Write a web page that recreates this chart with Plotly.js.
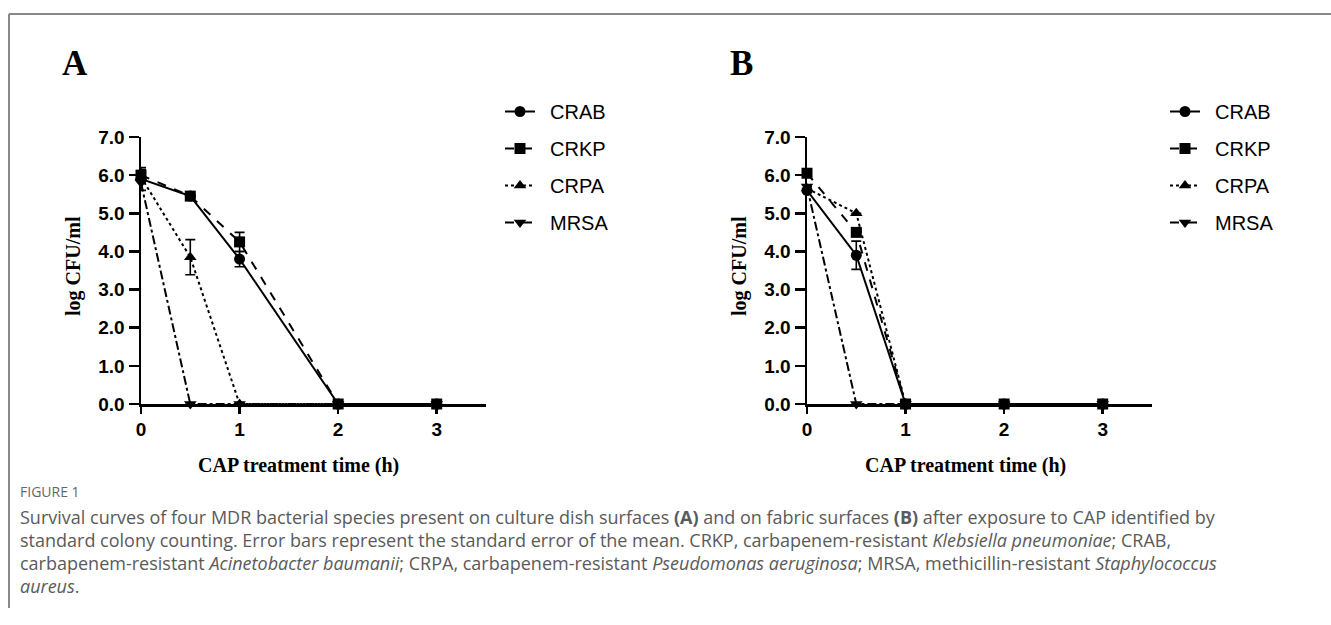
<!DOCTYPE html>
<html><head><meta charset="utf-8">
<script src="https://cdn.plot.ly/plotly-3.0.1.min.js"></script>
<style>html,body{margin:0;padding:0;background:#fff}</style>
</head><body><div id="chart" style="width:1331px;height:625px"></div>
<script>
// ---- data ----
const times = [0, 0.5, 1, 2, 3];
const seriesNames = ['CRAB', 'CRKP', 'CRPA', 'MRSA'];
const xTickVals = [0, 1, 2, 3];
const xTickText = ['0', '1', '2', '3'];
const yTickVals = [0, 1, 2, 3, 4, 5, 6, 7];
const yTickText = ['0.0', '1.0', '2.0', '3.0', '4.0', '5.0', '6.0', '7.0'];

// Panel A: culture dish surfaces
const dishCRAB = [5.9, 5.45, 3.8, 0, 0];
const dishCRAB_se = [0.3, 0, 0.2, 0, 0];
const dishCRKP = [6.0, 5.45, 4.25, 0, 0];
const dishCRKP_se = [0.15, 0, 0.25, 0, 0];
const dishCRPA = [5.95, 3.85, 0, 0, 0];
const dishCRPA_se = [0, 0.46, 0, 0, 0];
const dishMRSA = [5.8, 0, 0, 0, 0];
const dishMRSA_se = [0, 0, 0, 0, 0];

// Panel B: fabric surfaces
const fabCRAB = [5.6, 3.9, 0, 0, 0];
const fabCRAB_se = [0, 0.37, 0, 0, 0];
const fabCRKP = [6.05, 4.5, 0, 0, 0];
const fabCRKP_se = [0, 0, 0, 0, 0];
const fabCRPA = [5.65, 5.0, 0, 0, 0];
const fabCRPA_se = [0, 0, 0, 0, 0];
const fabMRSA = [5.7, 0, 0, 0, 0];
const fabMRSA_se = [0, 0, 0, 0, 0];

// ---- styles ----
const styles = {
  CRAB: {dash: 'solid', symbol: 'circle'},
  CRKP: {dash: 'dash', symbol: 'square'},
  CRPA: {dash: 'dot', symbol: 'triangle-up'},
  MRSA: {dash: 'dashdot', symbol: 'triangle-down'}
};

function mk(name, y, se, xa, ya, leg) {
  const s = styles[name];
  return {
    type: 'scatter', mode: 'lines+markers', name: '\u2002' + name,
    x: times, y: y, xaxis: xa, yaxis: ya,
    legend: leg, legendgroup: leg + name,
    cliponaxis: false,
    line: {color: '#000', width: 2, dash: s.dash},
    marker: {color: '#000', size: 11, symbol: s.symbol},
    error_y: {type: 'data', array: se, visible: true, color: '#000', thickness: 1.6, width: 5}
  };
}

const data = [
  mk(seriesNames[0], dishCRAB, dishCRAB_se, 'x', 'y', 'legend'),
  mk(seriesNames[1], dishCRKP, dishCRKP_se, 'x', 'y', 'legend'),
  mk(seriesNames[2], dishCRPA, dishCRPA_se, 'x', 'y', 'legend'),
  mk(seriesNames[3], dishMRSA, dishMRSA_se, 'x', 'y', 'legend'),
  mk(seriesNames[0], fabCRAB, fabCRAB_se, 'x2', 'y2', 'legend2'),
  mk(seriesNames[1], fabCRKP, fabCRKP_se, 'x2', 'y2', 'legend2'),
  mk(seriesNames[2], fabCRPA, fabCRPA_se, 'x2', 'y2', 'legend2'),
  mk(seriesNames[3], fabMRSA, fabMRSA_se, 'x2', 'y2', 'legend2')
];

const W = 1331, H = 625;
const px = v => v / W;
const py = v => 1 - v / H;

const tickFont = {family: '"Liberation Sans", Arial, sans-serif', size: 19, color: '#000', weight: 'bold'};
function xax(domain, anchor) {
  return {domain: domain, anchor: anchor, range: [0, 3.5], showgrid: false, zeroline: false,
    showline: true, linewidth: 2.5, linecolor: '#000', ticks: 'outside', ticklen: 7, tickwidth: 2.5,
    tickcolor: '#000', tickvals: xTickVals, ticktext: xTickText, tickfont: tickFont, fixedrange: true};
}
function yax(domain, anchor) {
  return {domain: domain, anchor: anchor, range: [0, 7], showgrid: false, zeroline: false,
    showline: true, linewidth: 2.5, linecolor: '#000', ticks: 'outside', ticklen: 10, tickwidth: 2.5,
    tickcolor: '#000', tickvals: yTickVals, ticktext: yTickText, tickfont: tickFont, fixedrange: true};
}

const legFont = {family: '"Liberation Sans", Arial, sans-serif', size: 20, color: '#000'};
const serif = '"Liberation Serif", "Times New Roman", serif';
const capFont = '"Open Sans", "Noto Sans", sans-serif';
const capColor = '#5a5a5a';

const ann = [];
function addText(text, x, y, opts) {
  ann.push(Object.assign({text: text, x: px(x), y: py(y), xref: 'paper', yref: 'paper', showarrow: false,
    xanchor: 'center', yanchor: 'middle'}, opts || {}));
}
// panel labels
addText('<b>A</b>', 75, 63, {font: {family: serif, size: 35, color: '#000'}});
addText('<b>B</b>', 741, 63, {font: {family: serif, size: 35, color: '#000'}});
// axis titles
addText('<b>log CFU/ml</b>', 73, 266, {textangle: -90, font: {family: serif, size: 20, color: '#000'}});
addText('<b>log CFU/ml</b>', 739, 266, {textangle: -90, font: {family: serif, size: 20, color: '#000'}});
addText('<b>CAP treatment time (h)</b>', 298, 465, {font: {family: serif, size: 20, color: '#000'}});
addText('<b>CAP treatment time (h)</b>', 965, 465, {font: {family: serif, size: 20, color: '#000'}});
// caption
addText('FIGURE 1', 18, 491, {xanchor: 'left', font: {family: capFont, size: 14, color: '#666'}});
const capLines = [
  'Survival curves of four MDR bacterial species present on culture dish surfaces <b>(A)</b> and on fabric surfaces <b>(B)</b> after exposure to CAP identified by',
  'standard colony counting. Error bars represent the standard error of the mean. CRKP, carbapenem-resistant <i>Klebsiella pneumoniae</i>; CRAB,',
  'carbapenem-resistant <i>Acinetobacter baumanii</i>; CRPA, carbapenem-resistant <i>Pseudomonas aeruginosa</i>; MRSA, methicillin-resistant <i>Staphylococcus</i>',
  '<i>aureus</i>.'
];
const capY = [517, 540, 563, 586];
capLines.forEach((t, i) => addText(t, 18, capY[i], {xanchor: 'left', font: {family: capFont, size: 18, color: capColor}}));

const layout = {
  width: W, height: H,
  margin: {l: 0, r: 0, t: 0, b: 0},
  paper_bgcolor: '#fff', plot_bgcolor: '#fff',
  showlegend: true,
  xaxis: xax([px(141), px(486)], 'y'),
  yaxis: yax([1 - 404 / H, 1 - 137 / H], 'x'),
  xaxis2: xax([px(807), px(1152)], 'y2'),
  yaxis2: yax([1 - 404 / H, 1 - 137 / H], 'x2'),
  legend: {x: px(500), y: py(92), xanchor: 'left', yanchor: 'top', font: legFont, itemwidth: 30,
    tracegroupgap: 8, bgcolor: 'rgba(0,0,0,0)', itemclick: false, itemdoubleclick: false},
  legend2: {x: px(1165), y: py(92), xanchor: 'left', yanchor: 'top', font: legFont, itemwidth: 30,
    tracegroupgap: 8, bgcolor: 'rgba(0,0,0,0)', itemclick: false, itemdoubleclick: false},
  annotations: ann,
  shapes: [
    {type: 'line', xref: 'paper', yref: 'paper', x0: px(9), x1: 1, y0: py(14), y1: py(14), line: {color: '#888', width: 2}},
    {type: 'line', xref: 'paper', yref: 'paper', x0: px(9), x1: px(9), y0: py(14), y1: py(608), line: {color: '#888', width: 2}}
  ]
};

Plotly.newPlot('chart', data, layout, {staticPlot: true, displayModeBar: false});
</script>
</body></html>
